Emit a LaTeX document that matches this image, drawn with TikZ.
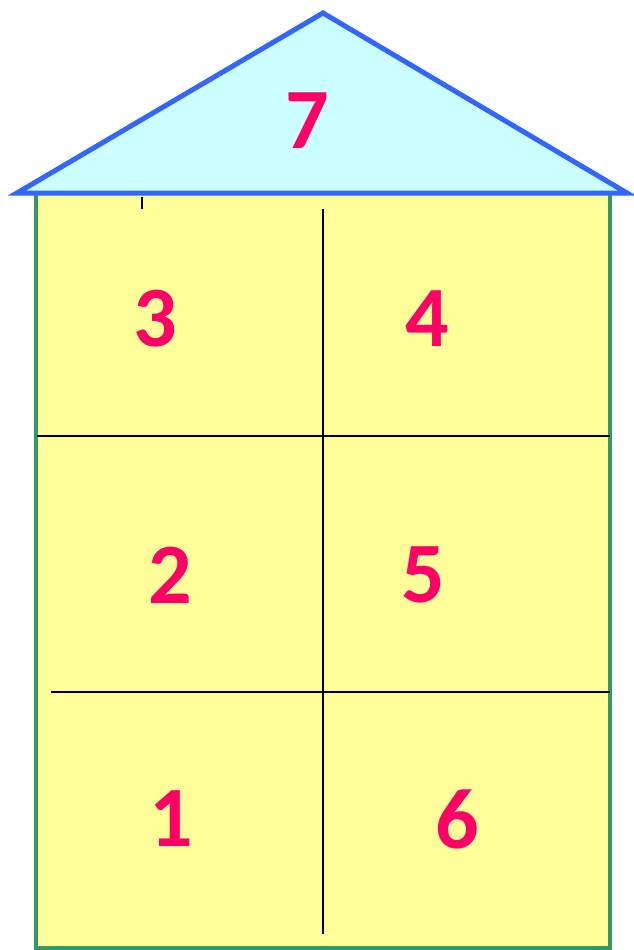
\documentclass[tikz,border=0pt]{standalone}
\usepackage{fontspec}
\setmainfont{Carlito}
\usetikzlibrary{positioning}
\definecolor{wall}{HTML}{FFFF99}
\definecolor{wallline}{HTML}{339966}
\definecolor{roof}{HTML}{CCFFFF}
\definecolor{roofline}{HTML}{3366FF}
\definecolor{numred}{HTML}{FF0066}

\begin{document}
\begin{tikzpicture}[
  x=1pt,y=-1pt,
  num/.style={font=\fontsize{86}{86}\selectfont\bfseries,text=numred,inner sep=0pt},
  split/.style={draw=black,line width=2pt},
]
  \useasboundingbox (0,0) rectangle (633,950);

  % house body
  \draw[fill=wall,draw=wallline,line width=3.5pt] (36,193) rectangle (610,948);
  % roof
  \draw[fill=roof,draw=roofline,line width=5pt,line join=miter]
        (17,193) -- (323,13) -- (627,193) -- cycle;

  % dividing lines
  \draw[split] (142,197) -- (142,209);
  \draw[split] (323,209) -- (323,934);
  \draw[split] (37,436) -- (610,436);
  \draw[split] (51,692) -- (610,692);

  % floor numbers
  \node[num] (n7) at (307,121) {7};
  \node[num] (n3) at (155,319) {3};
  \node[num] (n4) at (427,319) {4};
  \node[num] (n2) at (170,575) {2};
  \node[num] (n5) at (423,575) {5};
  \node[num] (n1) at (171,819) {1};
  \node[num] (n6) at (457,819) {6};
\end{tikzpicture}
\end{document}
